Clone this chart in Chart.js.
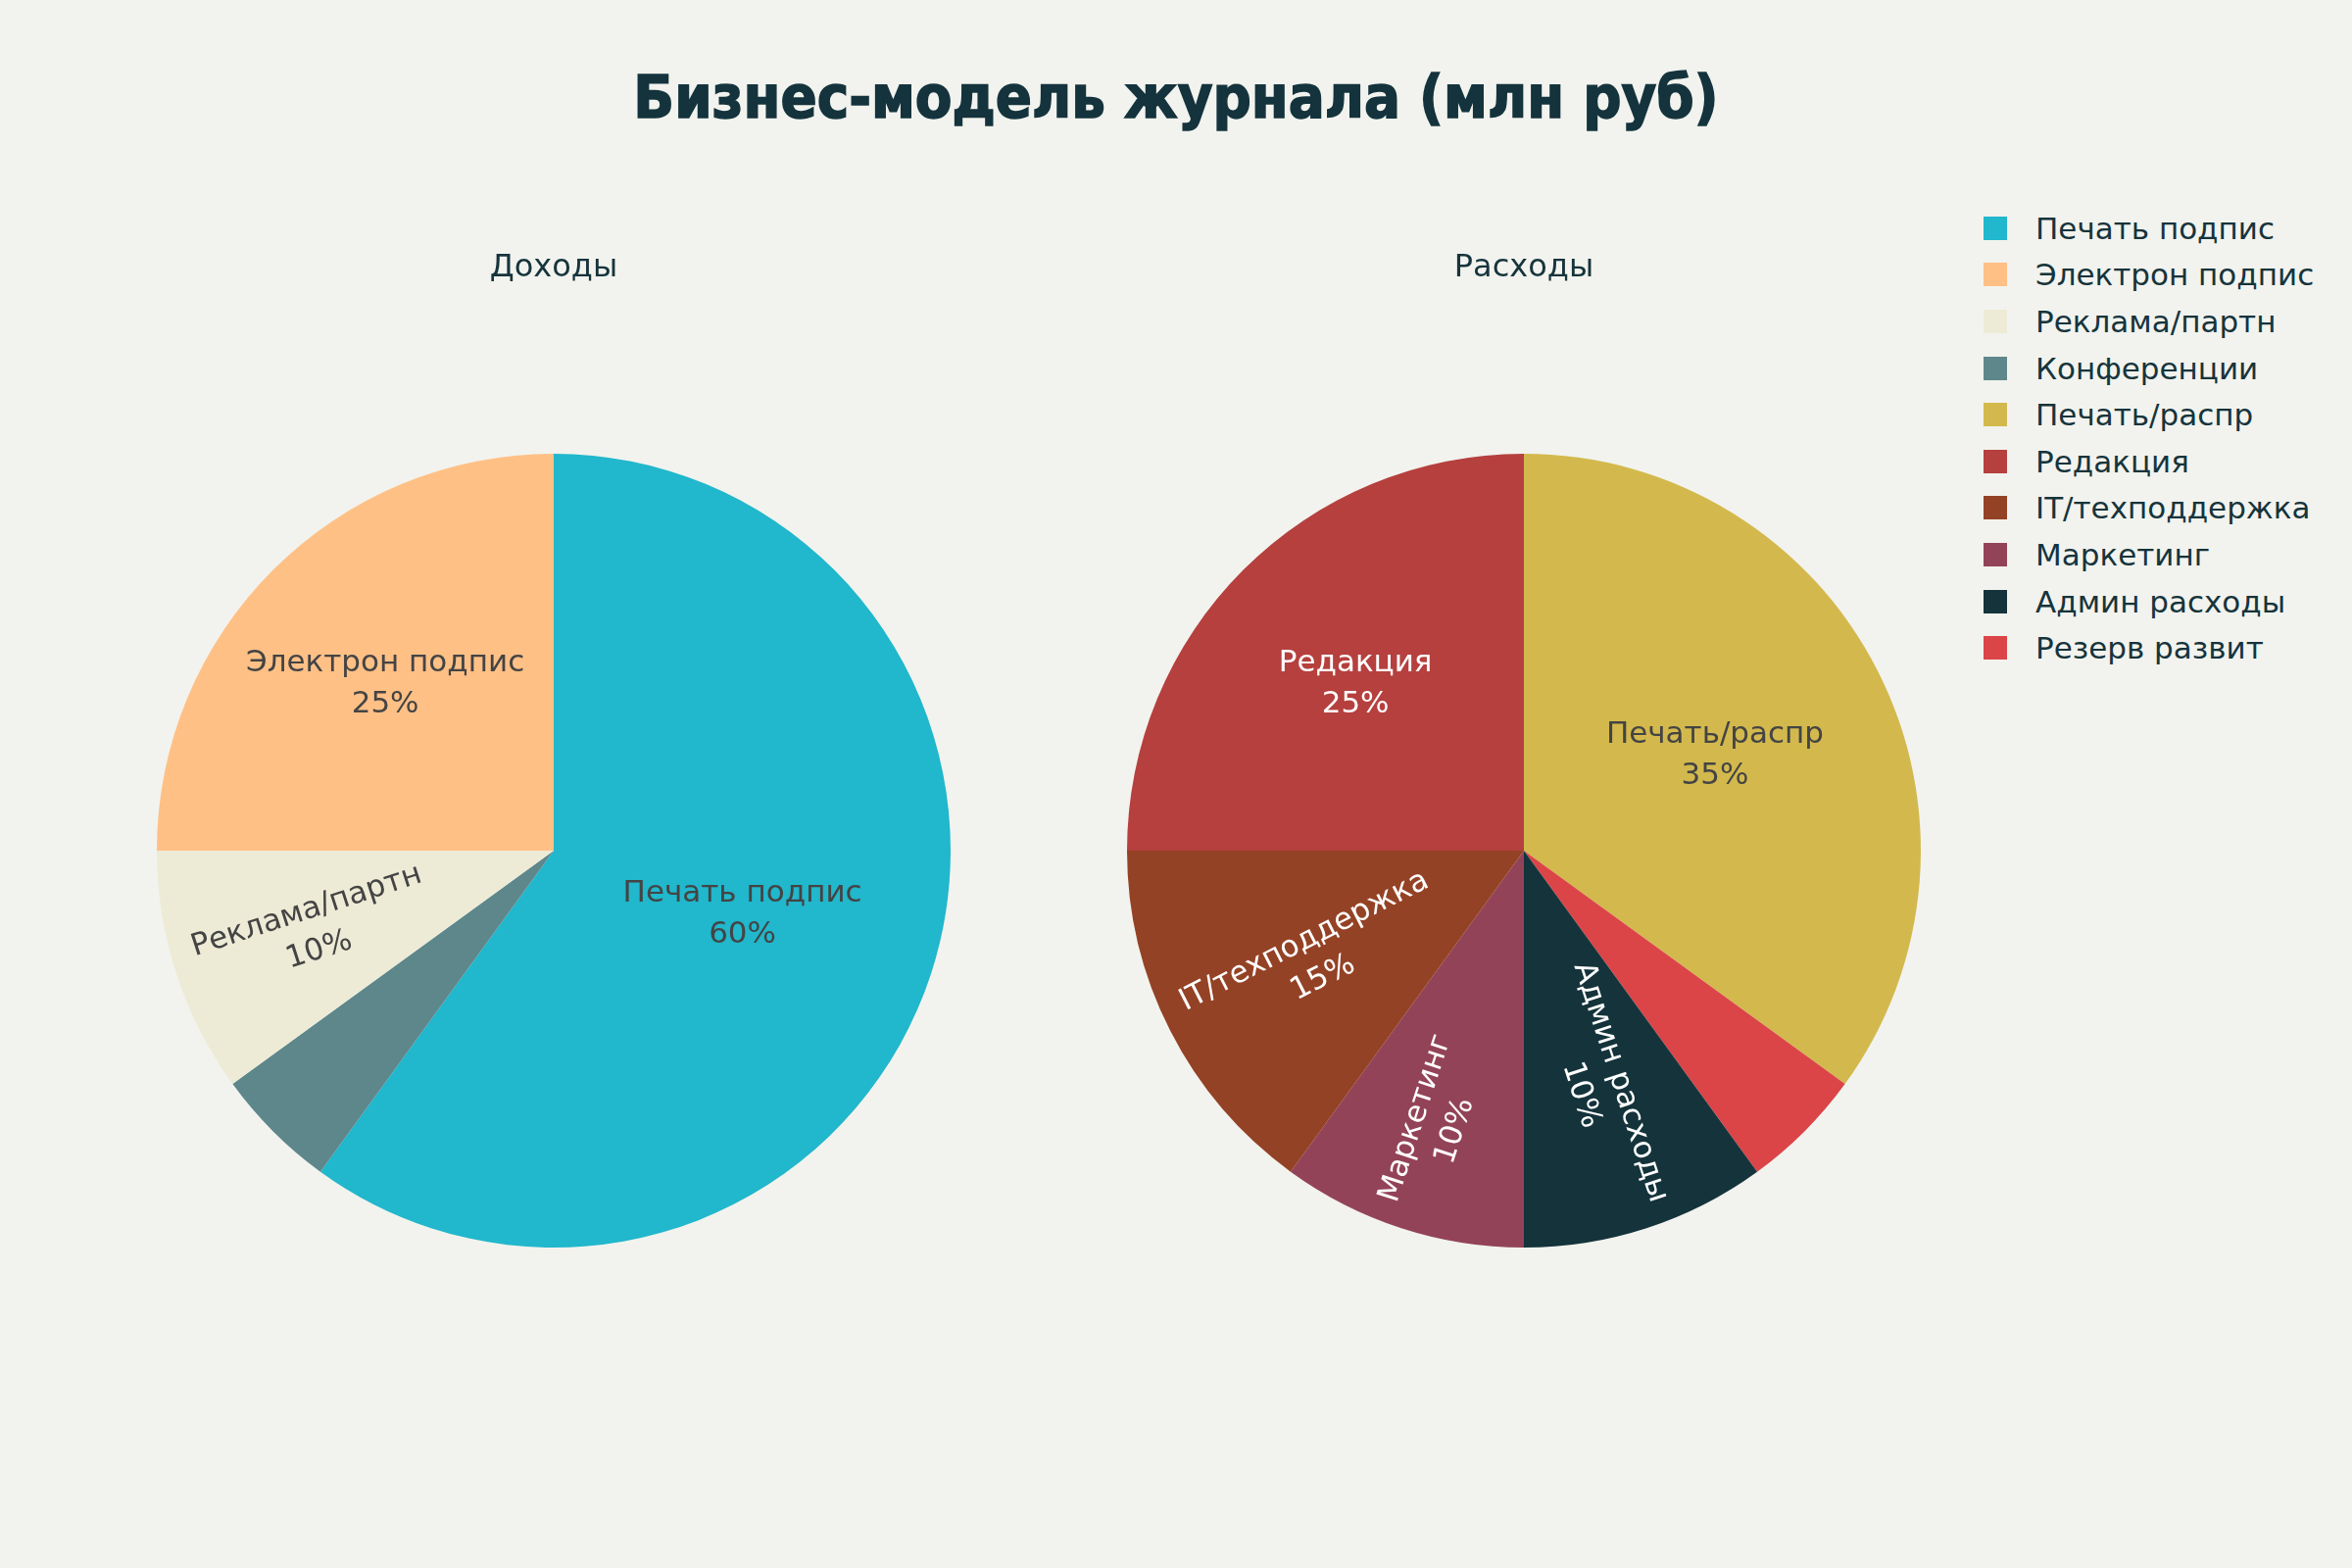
<!DOCTYPE html>
<html lang="ru">
<head>
  <meta charset="UTF-8" />
  <title>Бизнес-модель журнала</title>
  <script src="https://cdn.jsdelivr.net/npm/chart.js"></script>
  <style>
    html, body {
      margin: 0;
      width: 2400px;
      height: 1600px;
      background: #f2f3ee;
      font-family: "DejaVu Sans", sans-serif;
      overflow: hidden;
    }
    .title {
      position: absolute;
      left: 0;
      width: 2400px;
      top: 59px;
      text-align: center;
      font-family: "DejaVu Sans Condensed", "DejaVu Sans", sans-serif;
      font-stretch: condensed;
      font-size: 61px;
      font-weight: bold;
      color: #14333d;
      -webkit-text-stroke: 1.5px #14333d;
      line-height: 80px;
    }
    canvas { position: absolute; }
    #incomeChart { left: 150px; top: 240px; }
    #costChart { left: 1140px; top: 240px; }
    .legend {
      position: absolute;
      left: 2024px;
      top: 209px;
    }
    .legend-row {
      display: flex;
      align-items: center;
      height: 47.6px;
      font-size: 31px;
      color: #16343c;
      white-space: nowrap;
    }
    .legend-box {
      width: 24px;
      height: 24px;
      margin-right: 29px;
    }
  </style>
</head>
<body>
  <div class="title">Бизнес-модель журнала (млн руб)</div>
  <canvas id="incomeChart" width="830" height="1033"></canvas>
  <canvas id="costChart" width="830" height="1033"></canvas>
  <div class="legend" id="legend"></div>

  <script>
    // доходы
    const incomeLabels = ["Печать подпис", "Электрон подпис", "Реклама/партн", "Конференции"];
    const incomeValues = [60, 25, 10, 5];
    const incomeColors = ["#21b7cc", "#ffc086", "#edebd6", "#5e878c"];

    // расходы
    const costLabels = ["Печать/распр", "Редакция", "IT/техподдержка", "Маркетинг", "Админ расходы", "Резерв развит"];
    const costValues = [35, 25, 15, 10, 10, 5];
    const costColors = ["#d3b94d", "#b5403e", "#944225", "#934358", "#14333b", "#db4548"];

    // largest slice first clockwise from the top, the rest follow in reverse
    function pieOrder(arr) {
      return [arr[0]].concat(arr.slice(1).reverse());
    }

    function isDark(hex) {
      const c = [1, 3, 5].map(i => parseInt(hex.substr(i, 2), 16) / 255)
        .map(v => v <= 0.03928 ? v / 12.92 : Math.pow((v + 0.055) / 1.055, 2.4));
      const lum = 0.2126 * c[0] + 0.7152 * c[1] + 0.0722 * c[2];
      return lum < 0.25;
    }

    const sliceLabels = {
      id: "sliceLabels",
      afterDatasetsDraw(chart) {
        const ctx = chart.ctx;
        const ds = chart.data.datasets[0];
        const total = ds.data.reduce((a, b) => a + b, 0);
        const meta = chart.getDatasetMeta(0);
        ctx.save();
        ctx.font = "31px 'DejaVu Sans'";
        ctx.textAlign = "center";
        ctx.textBaseline = "middle";
        meta.data.forEach((arc, i) => {
          const pct = ds.data[i] / total;
          if (pct < 0.08) return;
          const label = chart.data.labels[i];
          const pctText = Math.round(pct * 100) + "%";
          const R = arc.outerRadius;
          const mid = (arc.startAngle + arc.endAngle) / 2;
          const half = (arc.endAngle - arc.startAngle) / 2;
          let r, rot = 0;
          if (pct >= 0.2) {
            r = R * Math.max(0.5, 2 * Math.sin(half) / (3 * half));
          } else {
            const w = Math.max(ctx.measureText(label).width, ctx.measureText(pctText).width);
            r = R - w / 2 - 24;
            rot = mid;
            if (Math.cos(rot) < 0) rot += Math.PI;
          }
          const x = arc.x + r * Math.cos(mid);
          const y = arc.y + r * Math.sin(mid) + 2;
          ctx.save();
          ctx.translate(x, y);
          ctx.rotate(rot);
          ctx.fillStyle = isDark(ds.backgroundColor[i]) ? "#ffffff" : "#444444";
          ctx.fillText(label, 0, -21);
          ctx.fillText(pctText, 0, 21);
          ctx.restore();
        });
        ctx.restore();
      }
    };

    function makePie(id, title, labels, values, colors) {
      return new Chart(document.getElementById(id), {
        type: "pie",
        data: {
          labels: pieOrder(labels),
          datasets: [{
            data: pieOrder(values),
            backgroundColor: pieOrder(colors),
            borderWidth: 0
          }]
        },
        options: {
          responsive: false,
          animation: false,
          events: [],
          layout: { padding: { left: 10, right: 10, top: 0, bottom: 0 } },
          plugins: {
            legend: { display: false },
            tooltip: { enabled: false },
            title: {
              display: true,
              text: title,
              color: "#16343c",
              font: { family: "DejaVu Sans", size: 32, weight: "normal", lineHeight: 1.2 },
              padding: { top: 14, bottom: 170.6 }
            }
          }
        },
        plugins: [sliceLabels]
      });
    }

    makePie("incomeChart", "Доходы", incomeLabels, incomeValues, incomeColors);
    makePie("costChart", "Расходы", costLabels, costValues, costColors);

    // общая легенда
    const legend = document.getElementById("legend");
    incomeLabels.concat(costLabels).forEach((name, i) => {
      const color = incomeColors.concat(costColors)[i];
      const row = document.createElement("div");
      row.className = "legend-row";
      row.innerHTML = `<div class="legend-box" style="background:${color}"></div><span>${name}</span>`;
      legend.appendChild(row);
    });
  </script>
</body>
</html>
